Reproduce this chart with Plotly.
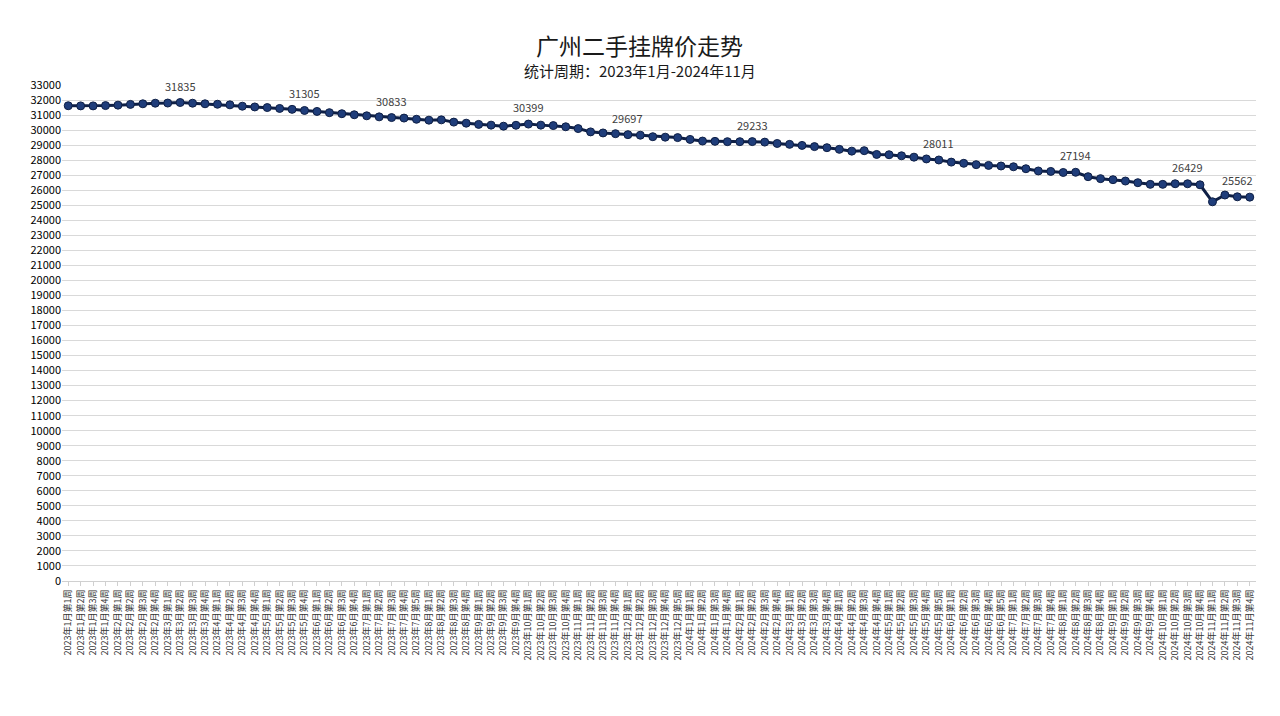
import plotly.graph_objects as go

months_2023 = [(1, 4), (2, 4), (3, 4), (4, 4), (5, 4), (6, 4), (7, 5), (8, 4), (9, 4), (10, 4), (11, 4), (12, 5)]
months_2024 = [(1, 4), (2, 4), (3, 4), (4, 4), (5, 5), (6, 5), (7, 4), (8, 4), (9, 4), (10, 4), (11, 4)]

categories = []
for year, months in ((2023, months_2023), (2024, months_2024)):
    for m, n in months:
        for w in range(1, n + 1):
            categories.append(f"{year}年{m}月第{w}周")

prices = [
    31620, 31610, 31610, 31630, 31660, 31710, 31750, 31790, 31800, 31835,
    31790, 31750, 31720, 31680, 31590, 31540, 31500, 31440, 31380, 31305,
    31240, 31160, 31090, 31020, 30950, 30880, 30833, 30800, 30720, 30660,
    30680, 30530, 30460, 30380, 30330, 30260, 30320, 30399, 30330, 30300,
    30220, 30100, 29880, 29810, 29760, 29697, 29660, 29560, 29530, 29500,
    29380, 29270, 29250, 29230, 29230, 29233, 29200, 29110, 29050, 28980,
    28900, 28830, 28720, 28600, 28630, 28380, 28360, 28290, 28200, 28080,
    28011, 27870, 27790, 27700, 27650, 27610, 27560, 27430, 27280, 27250,
    27180, 27194, 26900, 26770, 26700, 26610, 26500, 26390, 26390, 26430,
    26429, 26360, 25230, 25680, 25562, 25540,
]

labelled_idx = [9, 19, 26, 37, 45, 55, 70, 81, 90, 94]

y_ticks = list(range(0, 33001, 1000))

fig = go.Figure()
fig.add_trace(go.Scatter(
    x=categories, y=prices, mode="lines+markers",
    line=dict(color="#0E1F45", width=3),
    marker=dict(size=8, color="#1F3D7A", line=dict(color="#0E1F45", width=1)),
    hoverinfo="x+y", showlegend=False,
))

for i in labelled_idx:
    fig.add_annotation(x=categories[i], y=prices[i], text=str(prices[i]),
                       showarrow=False, yshift=17,
                       font=dict(size=11, color="#404040"))

fig.add_annotation(xref="paper", yref="paper", x=0.484, y=1.0, yshift=40,
                   yanchor="middle", text="广州二手挂牌价走势", showarrow=False,
                   font=dict(size=23, color="#1a1a1a"))
fig.add_annotation(xref="paper", yref="paper", x=0.484, y=1.0, yshift=15,
                   yanchor="middle", text="统计周期：2023年1月-2024年11月", showarrow=False,
                   font=dict(size=15, color="#1a1a1a"))

fig.update_layout(
    width=1264, height=700,
    margin=dict(l=54, r=16, t=77, b=127),
    paper_bgcolor="white", plot_bgcolor="white",
    font=dict(family="Noto Sans CJK SC, sans-serif"),
    xaxis=dict(
        type="category", range=[-0.5, len(categories) - 0.5],
        tickangle=-90, tickfont=dict(size=9, color="#333333"),
        showline=True, linecolor="#d0d0d0", ticks="outside",
        tickcolor="#d0d0d0", ticklen=4, showgrid=False, automargin=False,
    ),
    yaxis=dict(
        range=[0, 33000], tickvals=y_ticks, ticktext=[str(v) for v in y_ticks],
        tickfont=dict(size=11, color="#000000"),
        showgrid=True, gridcolor="#d9d9d9", gridwidth=1,
        zeroline=False, showline=False, automargin=False,
    ),
)

fig.write_html("out.html")
